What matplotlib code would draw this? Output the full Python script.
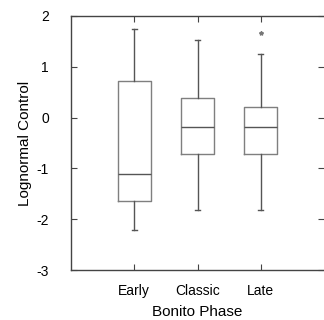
import matplotlib
matplotlib.use("Agg")
import matplotlib.pyplot as plt

plt.rcParams['font.family'] = ['Liberation Sans', 'DejaVu Sans']
plt.rcParams['axes.unicode_minus'] = False

# box statistics
phases = ['Early', 'Classic', 'Late']
whisker_low = [-2.22, -1.82, -1.82]
q1 = [-1.64, -0.72, -0.72]
median = [-1.12, -0.18, -0.18]
q3 = [0.73, 0.38, 0.20]
whisker_high = [1.74, 1.52, 1.25]
outliers = [[], [], [1.67]]

stats = []
for i in range(len(phases)):
    stats.append({'whislo': whisker_low[i], 'q1': q1[i], 'med': median[i],
                  'q3': q3[i], 'whishi': whisker_high[i], 'fliers': outliers[i],
                  'label': phases[i]})

fig = plt.figure(figsize=(3.24, 3.2), dpi=100)
ax = fig.add_axes([71/324, 1 - 270/320, 253/324, 254/320])

box_col = '#7f7f7f'
ax.bxp(stats, positions=[1, 2, 3], widths=0.52,
       boxprops=dict(color=box_col, linewidth=1),
       medianprops=dict(color='#555555', linewidth=1),
       whiskerprops=dict(color='#555555', linewidth=1),
       capprops=dict(color='#555555', linewidth=1),
       flierprops=dict(marker='*', markersize=3, markerfacecolor='#777777',
                       markeredgecolor='#777777'),
       capwidths=0.08)

ax.set_xlim(0, 4)
ax.set_ylim(-3, 2)
ax.set_yticks([-3, -2, -1, 0, 1, 2])
ax.set_xticks([1, 2, 3])
ax.set_xticklabels(phases)

for s in ['left', 'bottom', 'top']:
    ax.spines[s].set_color('#444444')
    ax.spines[s].set_linewidth(1)
ax.spines['right'].set_visible(False)

ax.tick_params(direction='in', length=4, color='#444444', labelsize=10,
               top=True, right=True)
ax.tick_params(axis='x', pad=10)
ax.tick_params(axis='y', pad=16)

ax.set_xlabel('Bonito Phase', fontsize=11, labelpad=5)
ax.set_ylabel('Lognormal Control', fontsize=11, labelpad=3)

fig.savefig('out.png', dpi=100)
